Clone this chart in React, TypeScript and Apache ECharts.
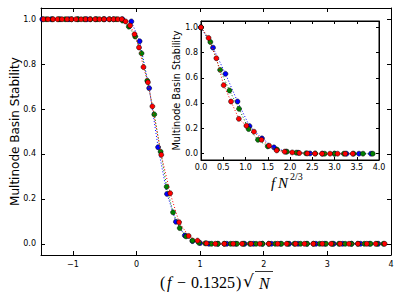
import React, { useEffect, useRef } from "react";
import * as echarts from "echarts";

// ---- Main plot data: x = (f - 0.1325) sqrt(N), y = multinode basin stability
const mainBlueX = [-1.48, -1.34, -1.2, -1.06, -0.92, -0.78, -0.64, -0.5, -0.36, -0.22, -0.08, 0.05, 0.2, 0.34, 0.48, 0.62, 0.76, 0.88, 1.0, 1.14, 1.28, 1.42, 1.56, 1.7, 1.84, 1.98, 2.12, 2.26, 2.4, 2.54, 2.68, 2.82, 2.96, 3.1, 3.24, 3.38, 3.52, 3.66, 3.8];
const mainBlueY = [1, 1, 1, 1, 1, 1, 1, 1, 1, 1, 0.99, 0.902, 0.693, 0.43, 0.222, 0.098, 0.037, 0.012, 0.003, 0, 0, 0, 0, 0, 0, 0, 0, 0, 0, 0, 0, 0, 0, 0, 0, 0, 0, 0, 0];

const mainGreenX = [-1.42, -1.32, -1.22, -1.12, -1.02, -0.92, -0.82, -0.72, -0.62, -0.52, -0.42, -0.32, -0.22, -0.12, -0.02, 0.08, 0.17, 0.28, 0.38, 0.475, 0.575, 0.68, 0.78, 0.88, 0.98, 1.08, 1.18, 1.28, 1.38, 1.48, 1.58, 1.68, 1.78, 1.88, 1.98, 2.08, 2.18, 2.28, 2.38, 2.48, 2.58, 2.68, 2.78, 2.88, 2.98, 3.08, 3.18, 3.28, 3.38, 3.48, 3.58, 3.68, 3.78, 3.88];
const mainGreenY = [1, 1, 1, 1, 1, 1, 1, 1, 1, 1, 1, 1, 0.994, 0.967, 0.923, 0.848, 0.726, 0.576, 0.41, 0.254, 0.14, 0.07, 0.033, 0.014, 0.005, 0.002, 0, 0, 0, 0, 0, 0, 0, 0, 0, 0, 0, 0, 0, 0, 0, 0, 0, 0, 0, 0, 0, 0, 0, 0, 0, 0, 0, 0];

const mainRedX = [-1.46, -1.39, -1.31, -1.24, -1.17, -1.09, -1.02, -0.95, -0.87, -0.8, -0.73, -0.65, -0.58, -0.51, -0.43, -0.36, -0.29, -0.23, -0.17, -0.1, -0.03, 0.04, 0.11, 0.18, 0.25, 0.39, 0.53, 0.67, 0.82, 0.96, 1.1, 1.24, 1.38, 1.52, 1.66, 1.8, 1.94, 2.08, 2.22, 2.36, 2.5, 2.64, 2.78, 2.92, 3.06, 3.2, 3.34, 3.48, 3.62, 3.76, 3.9];
const mainRedY = [1, 1, 1, 1, 1, 1, 1, 1, 1, 1, 1, 1, 1, 1, 1, 1, 1, 1, 0.99, 0.972, 0.933, 0.874, 0.787, 0.719, 0.612, 0.396, 0.225, 0.096, 0.035, 0.014, 0.002, 0, 0, 0, 0, 0, 0, 0, 0, 0, 0, 0, 0, 0, 0, 0, 0, 0, 0, 0, 0];

// ---- Inset data: x = f N^(2/3)
const insetBlueX = [0, 0.27, 0.55, 0.82, 1.09, 1.37, 1.64, 1.91, 2.18, 2.45, 2.73, 3.0, 3.27, 3.55, 3.82];
const insetBlueY = [1.0, 0.839, 0.632, 0.413, 0.218, 0.121, 0.05, 0.016, 0.008, 0.002, 0, 0, 0, 0, 0];

const insetGreenX = [0, 0.21, 0.43, 0.64, 0.855, 1.07, 1.28, 1.5, 1.71, 1.93, 2.14, 2.36, 2.57, 2.78, 3.0, 3.21, 3.43, 3.64, 3.86];
const insetGreenY = [1.0, 0.884, 0.663, 0.5, 0.355, 0.195, 0.11, 0.058, 0.032, 0.016, 0.008, 0.003, 0.001, 0, 0, 0, 0, 0, 0];

const insetRedX = [0, 0.17, 0.345, 0.51, 0.675, 0.85, 1.02, 1.19, 1.36, 1.53, 1.7, 1.88, 2.05, 2.21, 2.39, 2.56, 2.72, 2.9, 3.07, 3.24, 3.41];
const insetRedY = [1.0, 0.916, 0.755, 0.542, 0.413, 0.276, 0.221, 0.174, 0.11, 0.063, 0.026, 0.016, 0.01, 0.005, 0.002, 0.001, 0, 0, 0, 0, 0];

const yAxisLabel = "Multinode Basin Stability";

const BLUE = "#0000ff";
const GREEN = "#008000";
const RED = "#ff0000";

const zip = (xs: number[], ys: number[]) => xs.map((x, i) => [x, ys[i]]);

const TICK_FONT = "DejaVu Sans";
const SERIF = "'Liberation Serif'";

const fmtTenth = (v: number) =>
  Math.abs(v * 5 - Math.round(v * 5)) < 1e-6 ? v.toFixed(1).replace("-", "\u2212") : "";
const fmtHalf = (v: number) =>
  Math.abs(v * 2 - Math.round(v * 2)) < 1e-6 ? v.toFixed(1) : "";
const fmtInt = (v: number) =>
  Math.abs(v - Math.round(v)) < 1e-6 ? String(Math.round(v)).replace("-", "\u2212") : "";

function axisBase(tickLen: number) {
  return {
    type: "value" as const,
    axisLine: { show: true, onZero: false, lineStyle: { color: "#000", width: 1 } },
    axisTick: { show: true, inside: true, length: tickLen, lineStyle: { color: "#000", width: 1 } },
    splitLine: { show: false },
  };
}

function txt(text: string, x: number, y: number, font: string) {
  return {
    type: "text", x, y, z: 10,
    style: { text, fill: "#000", font, align: "left", verticalAlign: "middle" },
  };
}

export default function App() {
  const ref = useRef<HTMLDivElement>(null);
  useEffect(() => {
    if (!ref.current) return;
    const chart = echarts.init(ref.current, null, { renderer: "svg" });

    const mkSeries = (name: string, color: string, data: number[][], axis: number, z: number) => ({
      name,
      type: "line",
      xAxisIndex: axis,
      yAxisIndex: axis,
      data,
      symbol: "circle",
      symbolSize: 5,
      showSymbol: true,
      z,
      itemStyle: { color, borderColor: "#000", borderWidth: 0.5 },
      lineStyle: { color, width: 1, type: [1, 2] },
      emphasis: { disabled: true },
      silent: true,
    });

    const labelStyle = { color: "#000", fontFamily: TICK_FONT, fontSize: 8 };

    const option: any = {
      animation: false,
      backgroundColor: "#fff",
      grid: [
        { left: 41, top: 8, width: 350, height: 247, show: false },
        { left: 201, top: 21, width: 178, height: 139, show: true, backgroundColor: "#fff", borderColor: "#000", borderWidth: 1, z: 5 },
      ],
      xAxis: [
        {
          ...axisBase(4), gridIndex: 0, position: "bottom", min: -1.5, max: 4, splitNumber: 5,
          axisLabel: { ...labelStyle, margin: 5, formatter: fmtInt, showMinLabel: false },
        },
        {
          ...axisBase(4), gridIndex: 0, position: "top", min: -1.5, max: 4, splitNumber: 5,
          axisLabel: { show: false },
        },
        {
          ...axisBase(3), gridIndex: 1, position: "bottom", min: 0, max: 4, interval: 0.5, z: 6,
          axisLabel: { ...labelStyle, margin: 3, formatter: fmtHalf },
        },
        {
          ...axisBase(3), gridIndex: 1, position: "top", min: 0, max: 4, interval: 0.5, z: 6,
          axisLabel: { show: false },
        },
      ],
      yAxis: [
        {
          ...axisBase(4), gridIndex: 0, position: "left", min: -0.05, max: 1.05, splitNumber: 5,
          axisLabel: { ...labelStyle, margin: 5, formatter: fmtTenth, showMinLabel: false, showMaxLabel: false },
        },
        {
          ...axisBase(4), gridIndex: 0, position: "right", min: -0.05, max: 1.05, splitNumber: 5,
          axisLabel: { show: false },
        },
        {
          ...axisBase(3), gridIndex: 1, position: "left", min: -0.05, max: 1.05, splitNumber: 5, z: 6,
          axisLabel: { ...labelStyle, margin: 3, formatter: fmtTenth, showMinLabel: false, showMaxLabel: false },
        },
        {
          ...axisBase(3), gridIndex: 1, position: "right", min: -0.05, max: 1.05, splitNumber: 5, z: 6,
          axisLabel: { show: false },
        },
      ],
      series: [
        mkSeries("blue", BLUE, zip(mainBlueX, mainBlueY), 0, 2),
        mkSeries("green", GREEN, zip(mainGreenX, mainGreenY), 0, 3),
        mkSeries("red", RED, zip(mainRedX, mainRedY), 0, 4),
        mkSeries("blue-inset", BLUE, zip(insetBlueX, insetBlueY), 2, 7),
        mkSeries("green-inset", GREEN, zip(insetGreenX, insetGreenY), 2, 8),
        mkSeries("red-inset", RED, zip(insetRedX, insetRedY), 2, 9),
      ],
      graphic: [
        {
          type: "text", x: 15, y: 131.5, rotation: Math.PI / 2, z: 10,
          style: { text: yAxisLabel, fill: "#000", font: `12px ${TICK_FONT}`, align: "center", verticalAlign: "middle" },
        },
        {
          type: "text", x: 176, y: 90.5, rotation: Math.PI / 2, z: 10,
          style: { text: yAxisLabel, fill: "#000", font: `9.7px ${TICK_FONT}`, align: "center", verticalAlign: "middle" },
        },
        // main x-axis label: (f − 0.1325)√N
        txt("(", 160, 282, `16px ${SERIF}`),
        txt("f", 167, 282, `italic 16px ${SERIF}`),
        txt("\u2212", 177, 282, `16px ${SERIF}`),
        txt("0.1325", 191, 282, `16px ${SERIF}`),
        txt(")", 236, 282, `16px ${SERIF}`),
        txt("\u221A", 243, 281, `17px 'DejaVu Serif'`),
        txt("N", 259, 283, `italic 16px ${SERIF}`),
        {
          type: "line", z: 10,
          shape: { x1: 255, y1: 271.5, x2: 273, y2: 271.5 },
          style: { stroke: "#000", lineWidth: 0.8 },
        },
        // inset x-axis label: f N^{2/3}
        txt("f", 271, 183, `italic 15px ${SERIF}`),
        txt("N", 278, 183, `italic 15px ${SERIF}`),
        txt("2/3", 290, 176, `10px ${SERIF}`),
      ],
    };

    chart.setOption(option);
    return () => chart.dispose();
  }, []);

  return (
    <div
      ref={ref}
      style={{ position: "fixed", left: 0, top: 0, width: 403, height: 302, background: "#fff" }}
    />
  );
}
